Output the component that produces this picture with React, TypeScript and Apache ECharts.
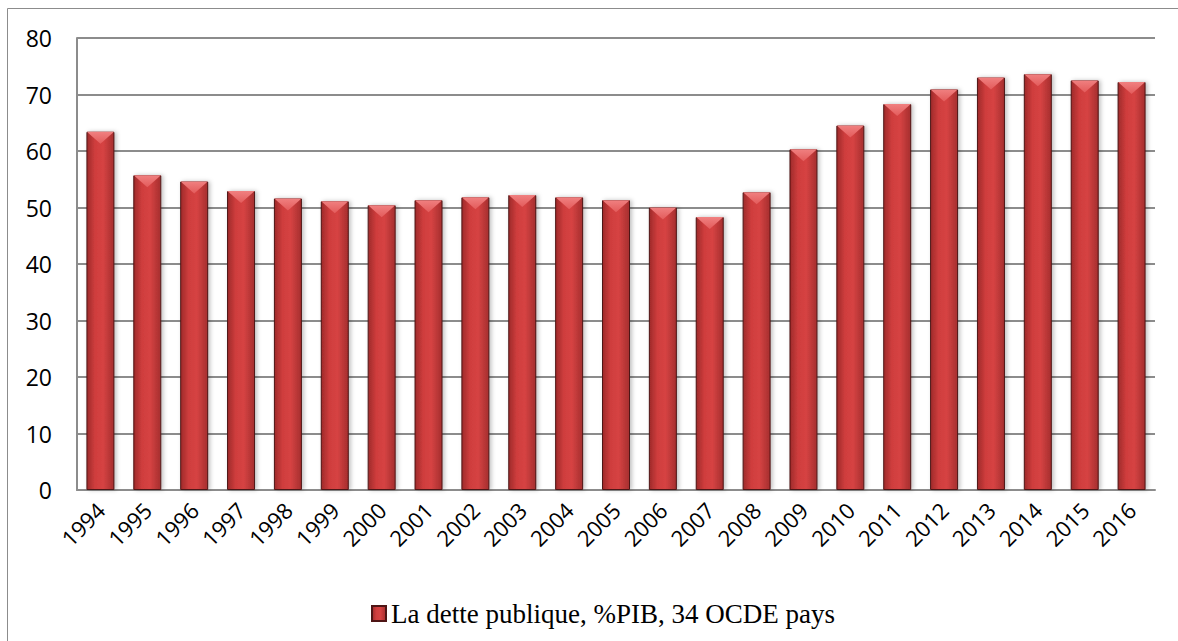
import React, { useEffect, useRef } from "react";
import * as echarts from "echarts";

const years = ["1994","1995","1996","1997","1998","1999","2000","2001","2002","2003","2004","2005","2006","2007","2008","2009","2010","2011","2012","2013","2014","2015","2016"];
const debt = [63.4, 55.7, 54.6, 52.9, 51.6, 51.1, 50.4, 51.3, 51.8, 52.2, 51.8, 51.3, 50.0, 48.3, 52.7, 60.3, 64.5, 68.3, 70.9, 73.0, 73.6, 72.5, 72.2];
const seriesName = "La dette publique, %PIB, 34 OCDE pays";
const yTicks = [0, 10, 20, 30, 40, 50, 60, 70, 80];

export default function App() {
  const ref = useRef<HTMLDivElement>(null);
  useEffect(() => {
    const chart = echarts.init(ref.current!, null, { renderer: "svg" });
    const barFill = new echarts.graphic.LinearGradient(0, 0, 1, 0, [
      { offset: 0, color: "#9e2a2a" },
      { offset: 0.3, color: "#cf3d3d" },
      { offset: 0.6, color: "#d64343" },
      { offset: 1, color: "#a52e2e" },
    ]);
    chart.setOption({
      animation: false,
      backgroundColor: "#ffffff",
      grid: { left: 77, right: 23, top: 38, bottom: 151, containLabel: false },
      xAxis: {
        type: "category",
        data: years,
        axisLine: { lineStyle: { color: "#8c8c8c", width: 2 } },
        axisTick: { show: false },
        axisLabel: {
          rotate: 45,
          color: "#000",
          fontFamily: "Open Sans",
          fontSize: 22,
          margin: 16,
          interval: 0,
        },
      },
      yAxis: {
        type: "value",
        min: 0,
        max: 80,
        interval: 10,
        axisLine: { show: true, lineStyle: { color: "#8c8c8c", width: 2 } },
        axisTick: { show: false },
        splitLine: { lineStyle: { color: "#8c8c8c", width: 2 } },
        axisLabel: {
          color: "#000",
          fontFamily: "Open Sans",
          fontSize: 23,
          margin: 25,
          formatter: (v: number) => (yTicks.includes(v) ? String(v) : ""),
        },
      },
      legend: {
        data: [{ name: seriesName, icon: "rect" }],
        left: 366,
        top: 595,
        itemWidth: 14,
        itemHeight: 15,
        itemGap: 8,
        textStyle: { fontFamily: "Liberation Serif", fontSize: 27, color: "#000" },
      },
      series: [
        {
          name: seriesName,
          type: "bar",
          data: debt,
          barWidth: 28,
          itemStyle: {
            color: barFill,
            borderColor: "#4e1515",
            borderWidth: 1,
            shadowColor: "rgba(0,0,0,0.25)",
            shadowBlur: 4,
            shadowOffsetX: 2,
          },
          z: 2,
        },
        {
          name: seriesName + " top",
          type: "pictorialBar",
          data: debt,
          symbol: "path://M0,0 L10,0 L5,4 Z",
          symbolSize: [27, 12],
          symbolPosition: "end",
          symbolOffset: [0, 0],
          symbolRepeat: false,
          itemStyle: {
            color: new echarts.graphic.LinearGradient(0, 0, 0, 1, [
              { offset: 0, color: "#f08080" },
              { offset: 1, color: "#e35b5b" },
            ]),
          },
          silent: true,
          z: 3,
        },
      ],
      graphic: [
        {
          type: "polyline",
          shape: { points: [[7.5, 641], [7.5, 8.5], [1178, 8.5]] },
          style: { stroke: "#8c8c8c", lineWidth: 1, fill: "none" },
          silent: true,
        },
      ],
    });
    return () => chart.dispose();
  }, []);
  return <div ref={ref} style={{ width: 1178, height: 641, position: "absolute", left: 0, top: 0 }} />;
}
